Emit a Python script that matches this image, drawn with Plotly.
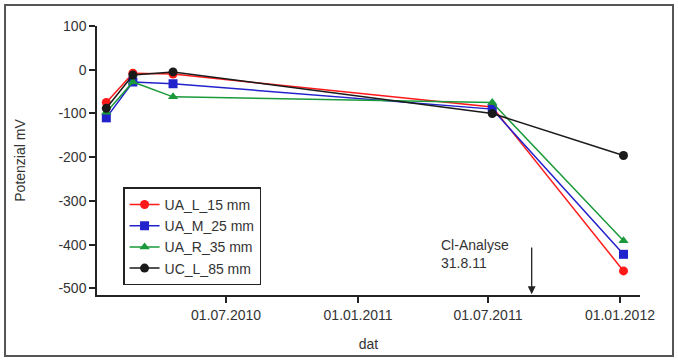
import plotly.graph_objects as go

dates = ["2010-01-15", "2010-02-21", "2010-04-18", "2011-07-07", "2012-01-06"]
ua_l_15 = [-75, -8, -10, -85, -460]
ua_m_25 = [-110, -28, -32, -90, -422]
ua_r_35 = [-97, -28, -62, -75, -391]
uc_l_85 = [-88, -12, -5, -100, -196]

names = ["UA_L_15 mm", "UA_M_25 mm", "UA_R_35 mm", "UC_L_85 mm"]
series = [ua_l_15, ua_m_25, ua_r_35, uc_l_85]
colors = ["#ff1a1a", "#2222cc", "#1a9a3a", "#1a1a1a"]
symbols = ["circle", "square", "triangle-up", "circle"]

tick_vals = ["2010-07-01", "2011-01-01", "2011-07-01", "2012-01-01"]
tick_text = ["01.07.2010", "01.01.2011", "01.07.2011", "01.01.2012"]
y_ticks = [100, 0, -100, -200, -300, -400, -500]
y_tick_text = ["100", "0", "-100", "-200", "-300", "-400", "-500"]

FONT = "Liberation Sans, Arial"

fig = go.Figure()
for name, vals, c, s in zip(names, series, colors, symbols):
    fig.add_trace(go.Scatter(
        x=dates, y=vals, name=name, mode="lines+markers",
        line=dict(color=c, width=1.5),
        marker=dict(color=c, symbol=s, size=9),
    ))

fig.add_annotation(
    x="2011-08-31", y=-513, ax="2011-08-31", ay=-403,
    xref="x", yref="y", axref="x", ayref="y",
    showarrow=True, arrowhead=2, arrowsize=1.2, arrowwidth=1.3,
    arrowcolor="#222", text="",
)
fig.add_annotation(
    x="2011-04-24", y=-421, xref="x", yref="y", showarrow=False,
    text="Cl-Analyse<br>31.8.11", align="left", xanchor="left",
    font=dict(size=14, color="#333", family=FONT),
)

fig.add_shape(type="rect", xref="paper", yref="paper",
              x0=-0.1694, x1=1.0608, y0=-0.2268, y1=1.078,
              line=dict(color="#555", width=2), layer="below")

fig.update_layout(
    width=678, height=361,
    margin=dict(l=97, r=38, t=26, b=66),
    paper_bgcolor="white", plot_bgcolor="white",
    font=dict(family=FONT, size=14, color="#333"),
    showlegend=True,
    legend=dict(
        x=0.048, y=0.40, xanchor="left", yanchor="top",
        bordercolor="#222", borderwidth=1.5, bgcolor="white",
        font=dict(size=14, color="#333"),
        tracegroupgap=0, itemwidth=30,
    ),
    xaxis=dict(
        range=["2010-01-02", "2012-01-29"],
        tickvals=tick_vals, ticktext=tick_text,
        showgrid=False, zeroline=False, showline=True,
        linecolor="#222", linewidth=1.5,
        ticks="outside", ticklen=6, tickcolor="#222", tickwidth=1.5,
        tickfont=dict(size=14),
        automargin=False,
        title=dict(text="dat", standoff=18, font=dict(size=14)),
    ),
    yaxis=dict(
        range=[-515, 100],
        tickvals=y_ticks, ticktext=y_tick_text,
        showgrid=False, zeroline=False, showline=True,
        linecolor="#222", linewidth=1.5,
        ticks="outside", ticklen=6, tickcolor="#222", tickwidth=1.5,
        tickfont=dict(size=14),
        automargin=False,
        title=dict(text="Potenzial mV", standoff=30, font=dict(size=14)),
    ),
)

fig.write_html("out.html", config={"displayModeBar": False},
               post_script="document.body.style.margin='0';")
